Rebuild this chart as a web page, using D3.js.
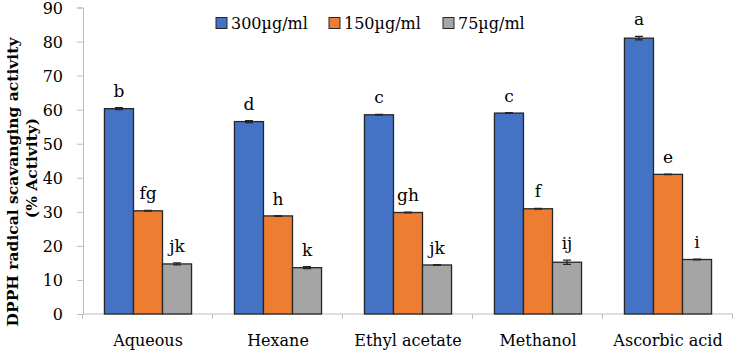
<!DOCTYPE html>
<html lang="en">
<head>
  <meta charset="utf-8">
  <title>DPPH radical scavenging</title>
  <script src="https://cdn.jsdelivr.net/npm/d3@7"></script>
  <style>
    body { margin: 0; background: #fff; }
    svg text { font-family: "DejaVu Serif", serif; fill: #000; }
  </style>
</head>
<body>
  <div id="chart"></div>
  <script>
    // data
    var categories = ["Aqueous", "Hexane", "Ethyl acetate", "Methanol", "Ascorbic acid"];
    var series = ["300\u00b5g/ml", "150\u00b5g/ml", "75\u00b5g/ml"];
    var values300 = [60.3, 56.5, 58.5, 59.0, 81.0];
    var values150 = [30.3, 28.8, 29.8, 30.9, 41.0];
    var values75 = [14.7, 13.6, 14.4, 15.2, 16.0];
    var err300 = [0.3, 0.3, 0.1, 0.1, 0.5];
    var err150 = [0.1, 0.1, 0.1, 0.1, 0.1];
    var err75 = [0.3, 0.3, 0.1, 0.6, 0.1];
    var letters300 = ["b", "d", "c", "c", "a"];
    var letters150 = ["fg", "h", "gh", "f", "e"];
    var letters75 = ["jk", "k", "jk", "ij", "i"];
    var yTicks = [0, 10, 20, 30, 40, 50, 60, 70, 80, 90];
    var colors = ["#4472C4", "#ED7D31", "#A5A5A5"];

    var allValues = [values300, values150, values75];
    var allErr = [err300, err150, err75];
    var allLetters = [letters300, letters150, letters75];

    var width = 734, height = 352;
    var margin = { top: 7.5, right: 1, bottom: 38, left: 83 };

    var svg = d3.select('#chart')
      .append('svg')
      .attr('width', width)
      .attr('height', height);

    var x0 = d3.scaleBand()
      .domain(categories)
      .range([margin.left, width - margin.right])
      .paddingInner(0)
      .paddingOuter(0);

    var x1 = d3.scaleBand()
      .domain(d3.range(series.length))
      .range([x0.bandwidth() * 0.165, x0.bandwidth() * 0.835]);

    var y = d3.scaleLinear()
      .domain([0, 90])
      .range([height - margin.bottom, margin.top]);

    // y axis
    var yAxis = svg.append('g')
      .attr('transform', 'translate(' + margin.left + ',0)')
      .call(d3.axisLeft(y).tickValues(yTicks).tickSize(6).tickPadding(14));
    yAxis.select('.domain').attr('stroke', '#bfbfbf');
    yAxis.selectAll('.tick line').attr('stroke', '#bfbfbf');
    yAxis.selectAll('.tick text').style('font-size', '16px').attr('dy', '0.35em');

    // x axis
    var xAxis = svg.append('g')
      .attr('transform', 'translate(0,' + y(0) + ')')
      .call(d3.axisBottom(x0).tickSize(0).tickPadding(21));
    xAxis.select('.domain').attr('stroke', '#bfbfbf').attr('d', 'M' + margin.left + ',0H' + (width - margin.right));
    xAxis.selectAll('.tick text').style('font-size', '16px');
    // boundary ticks between categories
    svg.append('g').selectAll('line')
      .data(d3.range(categories.length + 1))
      .join('line')
      .attr('x1', function (i) { return Math.round(margin.left + i * x0.step()) - 0.5; })
      .attr('x2', function (i) { return Math.round(margin.left + i * x0.step()) - 0.5; })
      .attr('y1', y(0))
      .attr('y2', y(0) + 5)
      .attr('stroke', '#bfbfbf');

    // bars
    var groups = svg.append('g').selectAll('g')
      .data(categories)
      .join('g')
      .attr('transform', function (d) { return 'translate(' + x0(d) + ',0)'; });

    groups.each(function (cat, ci) {
      var g = d3.select(this);
      series.forEach(function (s, si) {
        var v = allValues[si][ci];
        var e = allErr[si][ci];
        var bx = x1(si);
        var bw = x1.bandwidth();
        g.append('rect')
          .attr('x', bx)
          .attr('y', y(v))
          .attr('width', bw)
          .attr('height', y(0) - y(v))
          .attr('fill', colors[si])
          .attr('stroke', '#262626')
          .attr('stroke-width', 1.3);
        // error bar
        var cx = bx + bw / 2;
        g.append('path')
          .attr('d', 'M' + (cx - 4) + ',' + y(v + e) + 'H' + (cx + 4) +
            'M' + cx + ',' + y(v + e) + 'V' + y(v - e) +
            'M' + (cx - 4) + ',' + y(v - e) + 'H' + (cx + 4))
          .attr('stroke', '#262626')
          .attr('stroke-width', 1.3)
          .attr('fill', 'none');
        // significance letter
        g.append('text')
          .attr('x', cx)
          .attr('y', y(v + e) - 11)
          .attr('text-anchor', 'middle')
          .style('font-size', '17px')
          .text(allLetters[si][ci]);
      });
    });

    // legend
    var legendX = [216, 329, 443];
    var legend = svg.append('g').selectAll('g')
      .data(series)
      .join('g')
      .attr('transform', function (d, i) { return 'translate(' + legendX[i] + ',17.5)'; });
    legend.append('rect')
      .attr('width', 11)
      .attr('height', 11)
      .attr('fill', function (d, i) { return colors[i]; })
      .attr('stroke', '#262626')
      .attr('stroke-width', 1);
    legend.append('text')
      .attr('x', 15)
      .attr('y', 11)
      .style('font-size', '16px')
      .text(function (d) { return d; });

    // y axis title
    svg.append('text')
      .attr('transform', 'translate(18,182) rotate(-90)')
      .attr('text-anchor', 'middle')
      .style('font-size', '15.5px')
      .style('font-weight', 'bold')
      .text('DPPH radical scavanging activity');
    svg.append('text')
      .attr('transform', 'translate(37,168) rotate(-90)')
      .attr('text-anchor', 'middle')
      .style('font-size', '15.5px')
      .style('font-weight', 'bold')
      .text('(% Activity)');
  </script>
</body>
</html>
